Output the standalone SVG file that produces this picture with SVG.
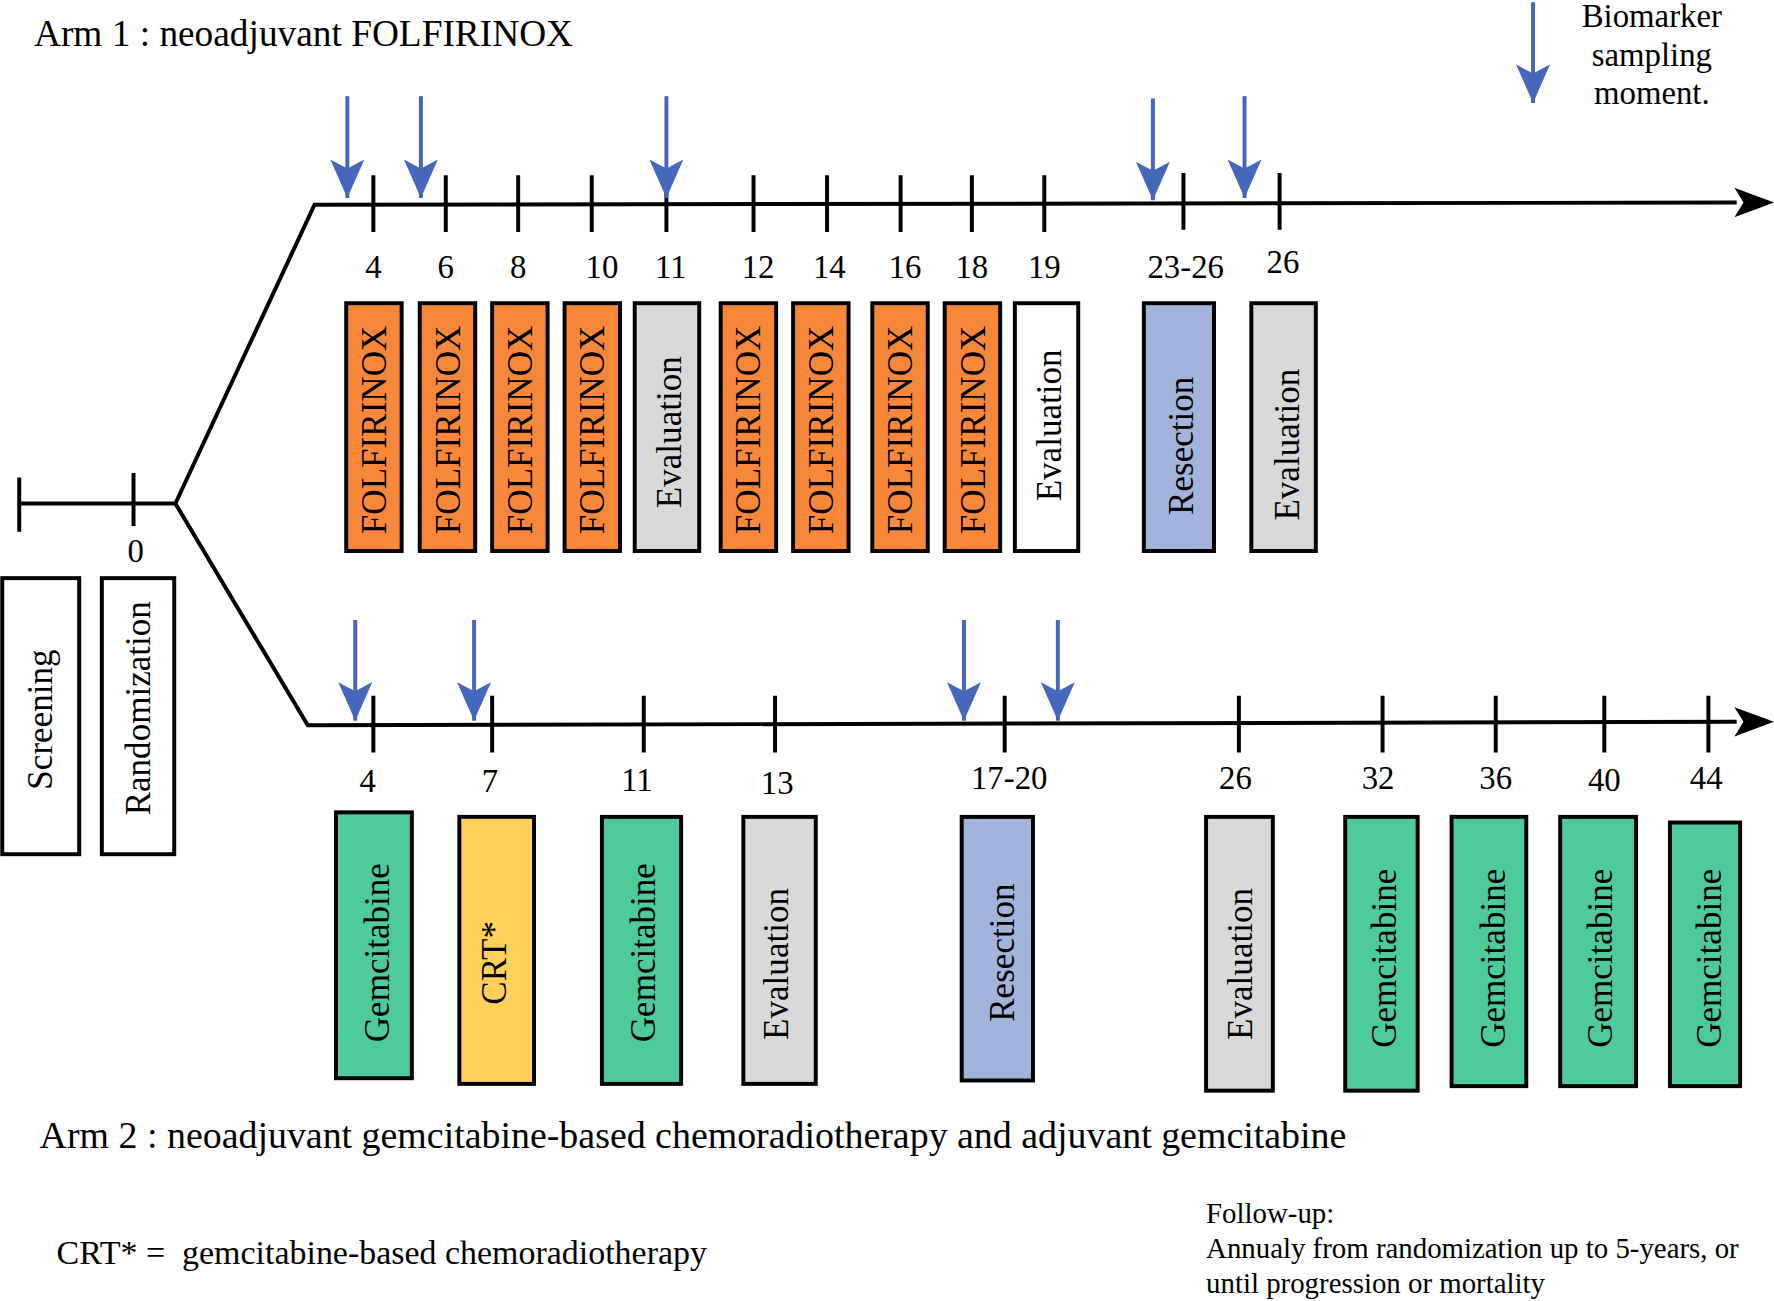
<svg xmlns="http://www.w3.org/2000/svg" width="1774" height="1301" viewBox="0 0 1774 1301">
<defs>
<style>
text{font-family:"Liberation Serif",serif;fill:#000}
.b{stroke:#000;stroke-width:3.5}
.l{stroke:#000;stroke-width:3.5;fill:none}
.t{font-size:29px;text-anchor:middle}
.bx{font-size:31px;text-anchor:middle;dominant-baseline:central}
.o{fill:#F7883A}.g{fill:#4DCB9A}.y{fill:#FFD05A}.e{fill:#D9D9D9}.r{fill:#A3B4DC}.w{fill:#fff}
.ba{stroke:#4466BB;stroke-width:3.5;marker-end:url(#bh)}
</style>
<marker id="bh" markerWidth="30" markerHeight="36" refX="15" refY="34" orient="0" markerUnits="userSpaceOnUse"><path d="M0,0L15,34L30,0L15,8z" fill="#4466BB"/></marker>
</defs>
<g transform="scale(1.1314)">
<g id="connectors">
<path class="l" d="M17,445H155L278,181L1535,179"/>
<path d="M1533,166L1568,179L1533,192L1541,179z"/>
<path class="l" d="M155,445L272,641L1535,638"/>
<path d="M1533,625L1568,638L1533,651L1541,638z"/>
<path class="l" d="M17,422V470M118,418V465"/>
<path class="l" d="M330,155V205M394,155V205M458,155V205M523,155V205M589,155V205M666,155V205M731,155V205M796,155V205M859,155V205M923,155V205M1046,153V203M1131,153V203"/>
<path class="l" d="M330,615V665M435,615V665M569,615V665M685,615V665M888,615V665M1095,615V665M1222,615V665M1322,615V665M1418,615V665M1510,615V665"/>
<line class="ba" x1="307" y1="85" x2="307" y2="175"/>
<line class="ba" x1="372" y1="85" x2="372" y2="175"/>
<line class="ba" x1="589" y1="85" x2="589" y2="175"/>
<line class="ba" x1="1019" y1="87" x2="1019" y2="177"/>
<line class="ba" x1="1100" y1="85" x2="1100" y2="175"/>
<line class="ba" x1="314" y1="548" x2="314" y2="637"/>
<line class="ba" x1="419" y1="548" x2="419" y2="637"/>
<line class="ba" x1="852" y1="548" x2="852" y2="637"/>
<line class="ba" x1="935" y1="548" x2="935" y2="637"/>
<line class="ba" x1="1355" y1="2" x2="1355" y2="91"/>
</g>
<g class="t">
<text x="330" y="246">4</text><text x="394" y="246">6</text><text x="458" y="246">8</text><text x="532" y="246">10</text><text x="593" y="246">11</text><text x="670" y="246">12</text><text x="733" y="246">14</text><text x="800" y="246">16</text><text x="859" y="246">18</text><text x="923" y="246">19</text><text x="1048" y="246">23-26</text><text x="1134" y="241">26</text>
<text x="325" y="700">4</text><text x="433" y="700">7</text><text x="563" y="699">11</text><text x="687" y="702">13</text><text x="892" y="697">17-20</text><text x="1092" y="697">26</text><text x="1218" y="697">32</text><text x="1322" y="697">36</text><text x="1418" y="699">40</text><text x="1508" y="697">44</text>
<text x="120" y="497">0</text>
</g>
<g id="n-screening"><rect class="b w" x="2" y="511" width="68" height="244"/><text class="bx" transform="translate(36,636) rotate(-90)">Screening</text></g>
<g id="n-random"><rect class="b w" x="90" y="511" width="64" height="244"/><text class="bx" transform="translate(122,626) rotate(-90)">Randomization</text></g>
<g id="n-a1-1"><rect class="b o" x="306" y="268" width="49" height="219"/><text class="bx" transform="translate(331,380) rotate(-90)">FOLFIRINOX</text></g>
<g id="n-a1-2"><rect class="b o" x="371" y="268" width="49" height="219"/><text class="bx" transform="translate(396,380) rotate(-90)">FOLFIRINOX</text></g>
<g id="n-a1-3"><rect class="b o" x="435" y="268" width="49" height="219"/><text class="bx" transform="translate(460,380) rotate(-90)">FOLFIRINOX</text></g>
<g id="n-a1-4"><rect class="b o" x="499" y="268" width="49" height="219"/><text class="bx" transform="translate(524,380) rotate(-90)">FOLFIRINOX</text></g>
<g id="n-a1-5"><rect class="b e" x="561" y="268" width="57" height="219"/><text class="bx" transform="translate(592,382) rotate(-90)">Evaluation</text></g>
<g id="n-a1-6"><rect class="b o" x="637" y="268" width="49" height="219"/><text class="bx" transform="translate(662,380) rotate(-90)">FOLFIRINOX</text></g>
<g id="n-a1-7"><rect class="b o" x="701" y="268" width="49" height="219"/><text class="bx" transform="translate(726,380) rotate(-90)">FOLFIRINOX</text></g>
<g id="n-a1-8"><rect class="b o" x="771" y="268" width="49" height="219"/><text class="bx" transform="translate(796,380) rotate(-90)">FOLFIRINOX</text></g>
<g id="n-a1-9"><rect class="b o" x="835" y="268" width="49" height="219"/><text class="bx" transform="translate(860,380) rotate(-90)">FOLFIRINOX</text></g>
<g id="n-a1-10"><rect class="b w" x="897" y="268" width="56" height="219"/><text class="bx" transform="translate(928,376) rotate(-90)">Evaluation</text></g>
<g id="n-a1-11"><rect class="b r" x="1011" y="268" width="62" height="219"/><text class="bx" transform="translate(1044,394) rotate(-90)">Resection</text></g>
<g id="n-a1-12"><rect class="b e" x="1106" y="268" width="57" height="219"/><text class="bx" transform="translate(1138,393) rotate(-90)">Evaluation</text></g>
<g id="n-a2-1"><rect class="b g" x="297" y="718" width="67" height="235"/><text class="bx" transform="translate(334,842) rotate(-90)">Gemcitabine</text></g>
<g id="n-a2-2"><rect class="b y" x="406" y="722" width="66" height="236"/><text class="bx" transform="translate(437,851) rotate(-90)">CRT*</text></g>
<g id="n-a2-3"><rect class="b g" x="532" y="722" width="70" height="236"/><text class="bx" transform="translate(569,842) rotate(-90)">Gemcitabine</text></g>
<g id="n-a2-4"><rect class="b e" x="657" y="722" width="64" height="236"/><text class="bx" transform="translate(686,852) rotate(-90)">Evaluation</text></g>
<g id="n-a2-5"><rect class="b r" x="850" y="722" width="63" height="233"/><text class="bx" transform="translate(886,842) rotate(-90)">Resection</text></g>
<g id="n-a2-6"><rect class="b e" x="1066" y="722" width="59" height="242"/><text class="bx" transform="translate(1096,852) rotate(-90)">Evaluation</text></g>
<g id="n-a2-7"><rect class="b g" x="1189" y="722" width="64" height="242"/><text class="bx" transform="translate(1224,847) rotate(-90)">Gemcitabine</text></g>
<g id="n-a2-8"><rect class="b g" x="1283" y="722" width="66" height="238"/><text class="bx" transform="translate(1320,847) rotate(-90)">Gemcitabine</text></g>
<g id="n-a2-9"><rect class="b g" x="1379" y="722" width="67" height="238"/><text class="bx" transform="translate(1415,847) rotate(-90)">Gemcitabine</text></g>
<g id="n-a2-10"><rect class="b g" x="1476" y="727" width="62" height="233"/><text class="bx" transform="translate(1511,847) rotate(-90)">Gemcitabine</text></g>
<g id="labels">
<text x="30" y="41" font-size="33">Arm 1 : neoadjuvant FOLFIRINOX</text>
<text x="35" y="1015" font-size="33.5">Arm 2 : neoadjuvant gemcitabine-based chemoradiotherapy and adjuvant gemcitabine</text>
<text x="50" y="1117" font-size="30" xml:space="preserve">CRT* =  gemcitabine-based chemoradiotherapy</text>
<text x="1066" y="1081" font-size="25.5">Follow-up:</text>
<text x="1066" y="1112" font-size="25.5">Annualy from randomization up to 5-years, or</text>
<text x="1066" y="1143" font-size="25.5">until progression or mortality</text>
<text class="t" x="1460" y="24">Biomarker</text>
<text class="t" x="1460" y="58">sampling</text>
<text class="t" x="1460" y="92">moment.</text>
</g>
</g>
</svg>
